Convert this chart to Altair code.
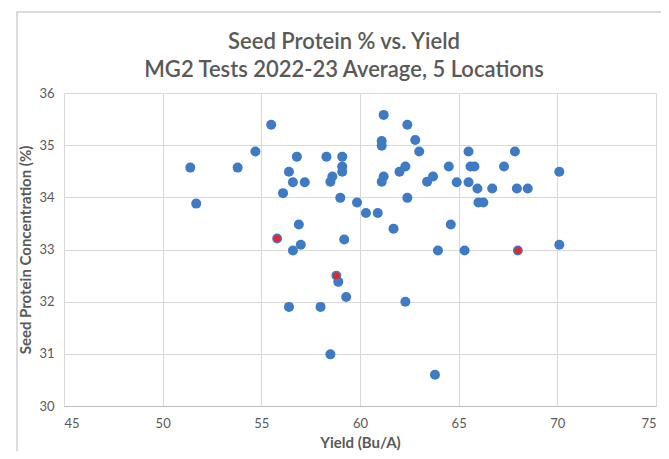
import altair as alt
import pandas as pd

# Blue markers (yield Bu/A, protein %)
blue_yield = [51.4, 51.7, 53.8, 54.7, 55.5,
              56.1, 56.4, 56.6, 57.2, 56.8,
              56.9, 57.0, 56.6, 56.4, 58.0,
              58.5, 58.9, 59.3, 59.2,
              58.3, 59.1, 59.1, 59.1, 58.6, 58.5,
              59.0, 59.85, 60.3, 60.9, 61.7,
              61.2, 61.1, 61.1, 61.2, 61.1,
              62.0, 62.3, 62.4, 62.8, 63.0, 62.4,
              63.4, 63.7, 64.5, 64.9, 64.6,
              65.5, 65.6, 65.8, 65.5, 65.95, 66.7,
              66.0, 66.25, 67.3, 67.85, 67.95, 68.5,
              70.1, 70.1, 63.95, 65.3, 62.3, 63.8]
blue_protein = [34.57, 33.88, 34.57, 34.88, 35.39,
                34.08, 34.49, 34.29, 34.29, 34.78,
                33.48, 33.09, 32.98, 31.90, 31.90,
                30.99, 32.38, 32.09, 33.19,
                34.78, 34.78, 34.59, 34.49, 34.40, 34.30,
                33.99, 33.90, 33.70, 33.70, 33.40,
                35.58, 35.08, 34.99, 34.40, 34.30,
                34.49, 34.59, 35.39, 35.10, 34.88, 33.99,
                34.30, 34.40, 34.59, 34.29, 33.48,
                34.88, 34.59, 34.59, 34.29, 34.17, 34.17,
                33.90, 33.90, 34.59, 34.88, 34.17, 34.17,
                34.49, 33.09, 32.98, 32.98, 32.00, 30.60]
# Red (highlighted) markers
red_yield = [55.8, 58.8, 68.0]
red_protein = [33.21, 32.50, 32.98]

x_ticks = [45, 50, 55, 60, 65, 70, 75]
y_ticks = [30, 31, 32, 33, 34, 35, 36]

blue_df = pd.DataFrame({"yield": blue_yield, "protein": blue_protein})
red_df = pd.DataFrame({"yield": red_yield, "protein": red_protein})

FONT = "Lato"
GRAY = "#595959"

xscale = alt.Scale(domain=[45, 75], nice=False, zero=False)
yscale = alt.Scale(domain=[30, 36], nice=False, zero=False)

xaxis = alt.Axis(values=x_ticks, title="Yield (Bu/A)", grid=True, gridColor="#d9d9d9",
                 ticks=False, domainColor="#bfbfbf", labelColor=GRAY, labelFontSize=13,
                 labelFont=FONT, labelPadding=11, titleFont=FONT, titleFontSize=15,
                 titleColor=GRAY, titleFontWeight="bold", titlePadding=5)
yaxis = alt.Axis(values=y_ticks, title="Seed Protein Concentration (%)", grid=True,
                 gridColor="#d9d9d9", ticks=False, domain=False, labelColor=GRAY,
                 labelFontSize=13, labelFont=FONT, labelPadding=10, titleFont=FONT,
                 titleFontSize=15, titleColor=GRAY, titleFontWeight="bold", titlePadding=5)

border = alt.Chart(pd.DataFrame({"a": [0]})).mark_rect(
    fill=None, stroke="#d0d0d0", strokeWidth=1.5, clip=False
).encode(x=alt.value(-47), x2=alt.value(700), y=alt.value(-81), y2=alt.value(500))

blue = alt.Chart(blue_df).mark_circle(size=100, color="#3f7bc4", opacity=1).encode(
    x=alt.X("yield:Q", scale=xscale, axis=xaxis),
    y=alt.Y("protein:Q", scale=yscale, axis=yaxis),
)
red = alt.Chart(red_df).mark_point(shape="circle", size=70, filled=True, fill="#e8242a",
                                   stroke="#3f7bc4", strokeWidth=1.5, opacity=1).encode(
    x=alt.X("yield:Q", scale=xscale),
    y=alt.Y("protein:Q", scale=yscale),
)

chart = alt.layer(border, blue, red).properties(
    width=592, height=313,
    title=alt.TitleParams(
        text=["Seed Protein % vs. Yield", "MG2 Tests 2022-23 Average, 5 Locations"],
        font=FONT, fontSize=22, fontWeight=600, color=GRAY, anchor="middle",
        dx=-16, dy=81, offset=10, lineHeight=28,
    ),
    autosize=alt.AutoSizeParams(type="none"),
    padding={"left": 56, "top": 85, "right": 5, "bottom": 45},
).configure_view(stroke=None).configure(background="white")

chart.save("out.html", embed_options={"renderer": "svg", "actions": False})
